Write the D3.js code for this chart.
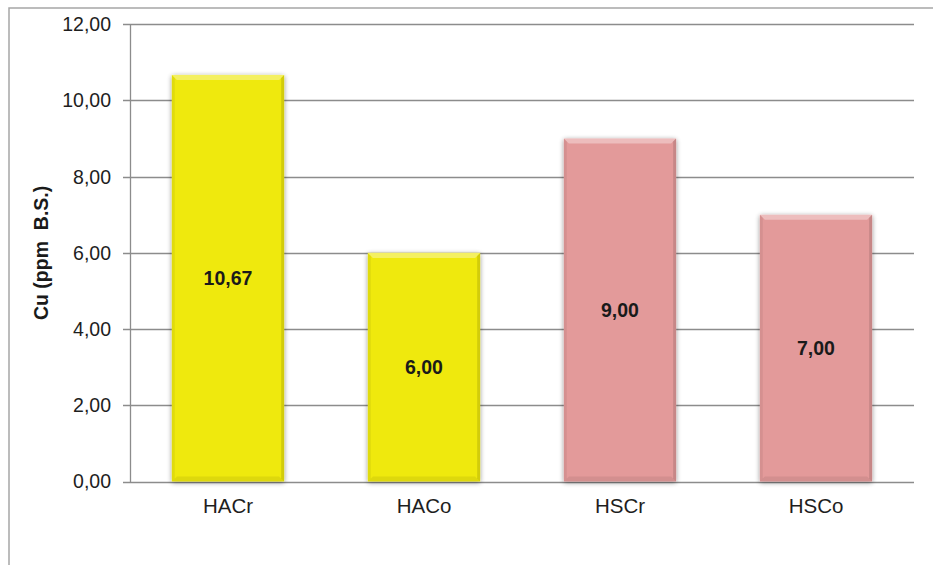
<!DOCTYPE html>
<html><head><meta charset="utf-8">
<script src="https://cdn.jsdelivr.net/npm/d3@7"></script>
<style>html,body{margin:0;padding:0;background:#fff;}svg{display:block;}text{white-space:pre;}</style>
</head><body>
<svg id="chart" width="933" height="565"></svg>
<script>
const categories = ["HACr", "HACo", "HSCr", "HSCo"];
const values = [10.67, 6.00, 9.00, 7.00];
const barColors = ["#EFE90F", "#EFE90F", "#E39A9A", "#E39A9A"];
const yTicks = [0, 2, 4, 6, 8, 10, 12];
const yTitle = "Cu (ppm  B.S.)";

(function () {
const fmt = v => v.toFixed(2).replace(".", ",");
const svg = d3.select("#chart");
const font = "'Liberation Sans', Arial, sans-serif";

svg.append("rect").attr("x", 9).attr("y", 8).attr("width", 940).attr("height", 580)
  .attr("fill", "none").attr("stroke", "#A6A6A6").attr("stroke-width", 1.5);

const pL = 130, pR = 914, pT = 24.3, pB = 481.5;
const x = d3.scaleBand().domain(categories).range([pL, pR]).paddingInner(0.427).paddingOuter(0.2135);
const y = d3.scaleLinear().domain([0, 12]).range([pB, pT]);

const defs = svg.append("defs");
const f = defs.append("filter").attr("id", "sh").attr("x", "-20%").attr("y", "-20%").attr("width", "140%").attr("height", "140%");
f.append("feGaussianBlur").attr("in", "SourceAlpha").attr("stdDeviation", 2.5).attr("result", "b");
f.append("feOffset").attr("in", "b").attr("dx", 0).attr("dy", 1).attr("result", "o");
f.append("feComponentTransfer").attr("in", "o").attr("result", "o2")
  .append("feFuncA").attr("type", "linear").attr("slope", 0.45);
const m = f.append("feMerge");
m.append("feMergeNode").attr("in", "o2");
m.append("feMergeNode").attr("in", "SourceGraphic");

svg.append("g").selectAll("line").data(yTicks).join("line")
  .attr("x1", pL - 7).attr("x2", pR)
  .attr("y1", d => Math.round(y(d)) + 0.5).attr("y2", d => Math.round(y(d)) + 0.5)
  .attr("stroke", "#8C8C8C").attr("stroke-width", 1.3);

svg.append("line").attr("x1", pL + 0.5).attr("x2", pL + 0.5).attr("y1", pT).attr("y2", pB + 1)
  .attr("stroke", "#8C8C8C").attr("stroke-width", 1.3);

svg.append("g").selectAll("text").data(yTicks).join("text")
  .attr("x", 111).attr("y", d => y(d)).attr("dy", "0.35em")
  .attr("text-anchor", "end").attr("font-family", font).attr("font-size", 19.5)
  .attr("fill", "#1e1e1e").text(fmt);

const bars = svg.append("g").selectAll("g").data(categories).join("g");
bars.append("rect")
  .attr("x", d => x(d)).attr("width", x.bandwidth())
  .attr("y", (d, i) => y(values[i])).attr("height", (d, i) => y(0) - y(values[i]))
  .attr("fill", (d, i) => barColors[i]).attr("filter", "url(#sh)");
const bev = 5;
bars.append("path").attr("d", (d, i) => {
  const x0 = x(d), x1 = x0 + x.bandwidth(), y0 = y(values[i]);
  return `M${x0},${y0}L${x1},${y0}L${x1 - bev},${y0 + bev}L${x0 + bev},${y0 + bev}Z`;
}).attr("fill", "#fff").attr("opacity", 0.35);
bars.append("path").attr("d", (d, i) => {
  const x0 = x(d), x1 = x0 + x.bandwidth(), y0 = y(values[i]), y1 = y(0);
  return `M${x1},${y0}L${x1},${y1}L${x1 - 3},${y1 - 3}L${x1 - 3},${y0 + 3}Z`;
}).attr("fill", "#000").attr("opacity", 0.12);
bars.append("path").attr("d", (d, i) => {
  const x0 = x(d), y0 = y(values[i]), y1 = y(0);
  return `M${x0},${y0}L${x0},${y1}L${x0 + 3},${y1 - 3}L${x0 + 3},${y0 + 3}Z`;
}).attr("fill", "#000").attr("opacity", 0.06);
bars.append("path").attr("d", (d, i) => {
  const x0 = x(d), x1 = x0 + x.bandwidth(), y1 = y(0);
  return `M${x0},${y1}L${x1},${y1}L${x1 - bev},${y1 - bev}L${x0 + bev},${y1 - bev}Z`;
}).attr("fill", "#000").attr("opacity", 0.07);

bars.append("text")
  .attr("x", d => x(d) + x.bandwidth() / 2)
  .attr("y", (d, i) => (y(values[i]) + y(0)) / 2).attr("dy", "0.35em")
  .attr("text-anchor", "middle").attr("font-family", font).attr("font-size", 19.5)
  .attr("font-weight", "bold").attr("fill", "#1a1a1a").text((d, i) => fmt(values[i]));

svg.append("g").selectAll("text").data(categories).join("text")
  .attr("x", d => x(d) + x.bandwidth() / 2).attr("y", 513)
  .attr("text-anchor", "middle").attr("font-family", font).attr("font-size", 20.5)
  .attr("fill", "#1e1e1e").text(d => d);

svg.append("text")
  .attr("transform", `translate(48,${(pT + pB) / 2}) rotate(-90)`)
  .attr("text-anchor", "middle").attr("font-family", font).attr("font-size", 19.5)
  .attr("font-weight", "bold").attr("fill", "#1a1a1a").text(yTitle);
})();
</script>
</body></html>
